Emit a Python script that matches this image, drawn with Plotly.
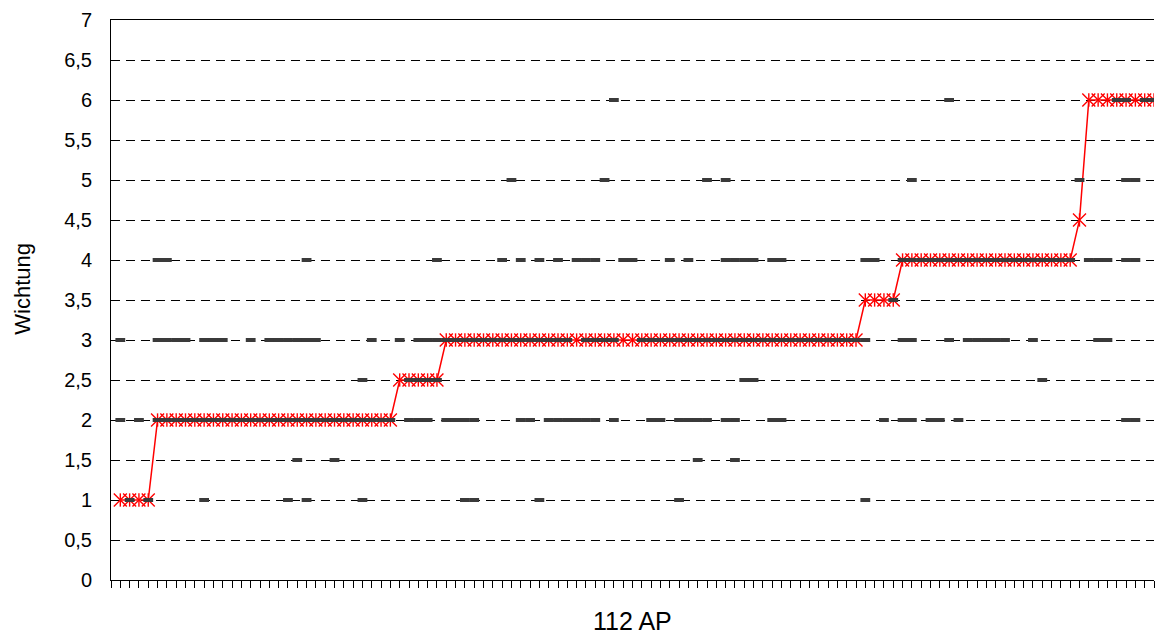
import plotly.graph_objects as go

# Sortierte Wichtung der 112 Arbeitspakete (AP): Stufenwert und Anzahl AP je Stufe
stufen_wert = [1, 2, 2.5, 3, 3.5, 4, 4.5, 6]
stufen_anzahl = [4, 26, 5, 45, 4, 19, 1, 8]

# Einzelbewertungen je Wichtungsstufe: Nummern der AP mit dieser Bewertung
ap_w1 = [2, 4, 10, 19, 21, 27, 38, 39, 46, 61, 81]
ap_w1_5 = [20, 24, 63, 67]
ap_w2 = [1, 3, 5, 6, 7, 8, 9, 10, 11, 12, 13, 14, 15, 16, 17, 18, 19, 20, 21, 22,
         23, 24, 25, 26, 27, 28, 29, 30, 32, 33, 34, 36, 37, 38, 39, 44, 45, 47, 48,
         49, 50, 51, 52, 54, 58, 59, 61, 62, 63, 64, 66, 67, 71, 72, 83, 85, 86, 88,
         89, 91, 109, 110]
ap_w2_5 = [27, 32, 33, 34, 35, 68, 69, 100]
ap_w3 = [1, 5, 6, 7, 8, 10, 11, 12, 15, 17, 18, 19, 20, 21, 22, 28, 31, 33, 34, 35,
         36, 37, 38, 39, 40, 41, 42, 43, 44, 45, 46, 47, 48, 49, 51, 52, 53, 54, 57,
         58, 59, 60, 61, 62, 63, 64, 65, 66, 67, 68, 69, 70, 71, 72, 73, 74, 75, 76,
         77, 78, 79, 80, 81, 85, 86, 90, 92, 93, 94, 95, 96, 99, 106, 107]
ap_w3_5 = [84]
ap_w4 = [5, 6, 21, 35, 42, 44, 46, 48, 50, 51, 52, 55, 56, 60, 62, 66, 67, 68, 69,
         71, 72, 81, 82, 85, 86, 87, 88, 89, 90, 91, 92, 93, 94, 95, 96, 97, 98, 99,
         100, 101, 102, 103, 105, 106, 107, 109, 110]
ap_w5 = [43, 53, 64, 66, 86, 104, 109, 110]
ap_w6 = [54, 90, 108, 109, 111, 112]

anzahl_ap = 112
y_ticks = [0, 0.5, 1, 1.5, 2, 2.5, 3, 3.5, 4, 4.5, 5, 5.5, 6, 6.5, 7]

# Stufenfolge in eine Wertereihe je AP umsetzen
wichtung = []
for wert, n in zip(stufen_wert, stufen_anzahl):
    wichtung.extend([wert] * n)
ap_nr = list(range(1, len(wichtung) + 1))

einzel_x, einzel_y = [], []
for wert, aps in [(1, ap_w1), (1.5, ap_w1_5), (2, ap_w2), (2.5, ap_w2_5), (3, ap_w3),
                  (3.5, ap_w3_5), (4, ap_w4), (5, ap_w5), (6, ap_w6)]:
    einzel_x.extend(aps)
    einzel_y.extend([wert] * len(aps))

ROT = "#ff0000"
GRAU = "#3a3a3a"
SCHRIFT = "Liberation Sans, Arial, sans-serif"

fig = go.Figure()

# Sortierte Wichtung: Linie mit Sternmarkern (X plus senkrechter Strich)
fig.add_trace(go.Scatter(
    x=ap_nr, y=wichtung, mode="lines+markers",
    line=dict(color=ROT, width=1.5),
    marker=dict(symbol="x-thin-open", size=13, color=ROT, line=dict(color=ROT, width=1.4)),
    showlegend=False, hoverinfo="skip",
))
fig.add_trace(go.Scatter(
    x=ap_nr, y=wichtung, mode="markers",
    marker=dict(symbol="line-ns-open", size=9.5, color=ROT, line=dict(color=ROT, width=1.4)),
    showlegend=False, hoverinfo="skip",
))

# Einzelbewertungen als kurze Striche, zuletzt und damit über der Linie gezeichnet
fig.add_trace(go.Scatter(
    x=einzel_x, y=einzel_y, mode="markers",
    marker=dict(symbol="line-ew-open", size=7, color=GRAU, line=dict(color=GRAU, width=4)),
    showlegend=False, hoverinfo="skip",
))

fig.update_layout(
    width=1155, height=634,
    margin=dict(l=111, r=1, t=20, b=54),
    paper_bgcolor="white", plot_bgcolor="white",
    separators=",.",
    font=dict(family=SCHRIFT, color="black", size=20),
    showlegend=False,
)

fig.update_xaxes(
    range=[0, anzahl_ap], tickmode="linear", tick0=0, dtick=1,
    ticks="outside", ticklen=7, tickwidth=1, tickcolor="black",
    showticklabels=False, showgrid=False, zeroline=False,
    showline=True, linecolor="black", linewidth=1, mirror=True,
)
fig.update_yaxes(
    range=[0, 7], tickmode="array", tickvals=y_ticks,
    ticks="", showticklabels=True, ticklabelstandoff=14,
    tickfont=dict(family=SCHRIFT, size=20, color="black"),
    showgrid=True, gridcolor="black", gridwidth=1, griddash="9px,6px",
    zeroline=False, showline=True, linecolor="black", linewidth=1,
)

fig.add_annotation(
    text="Wichtung", textangle=-90, xref="paper", yref="paper",
    x=-0.0845, y=0.52, xanchor="center", yanchor="middle", showarrow=False,
    font=dict(family=SCHRIFT, size=22, color="black"),
)
fig.add_annotation(
    text="112 AP", xref="paper", yref="paper",
    x=0.5, y=-0.074, xanchor="center", yanchor="middle", showarrow=False,
    font=dict(family=SCHRIFT, size=25, color="black"),
)

fig.write_html("out.html")
